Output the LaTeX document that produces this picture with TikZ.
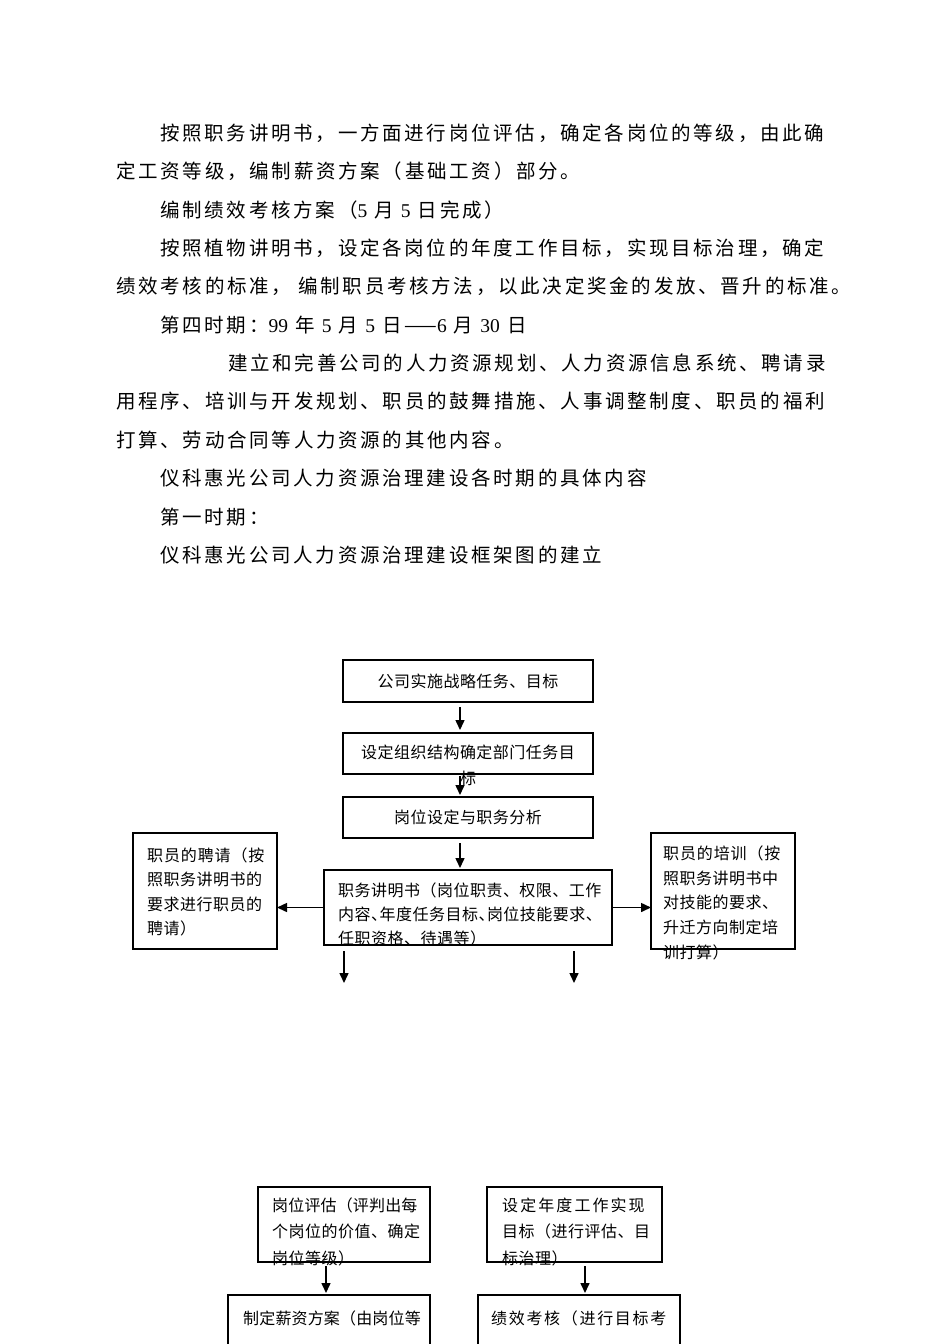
\documentclass[tikz,border=0pt]{standalone}
\usepackage{fontspec}
\setmainfont{Liberation Serif}
\newfontfamily\bodycjk[LetterSpace=14]{Noto Sans CJK SC}
\newfontfamily\boxcjk[LetterSpace=3]{Noto Sans CJK SC}
\usetikzlibrary{arrows.meta}
\newcommand\lat[1]{{\rmfamily #1}}

\begin{document}
\begin{tikzpicture}[x=1pt,y=-1pt,
  body/.style={anchor=west,inner sep=0pt,font=\bodycjk\fontsize{19.5pt}{19.5pt}\selectfont},
  frame/.style={draw,line width=1.1pt,inner sep=0pt,outer sep=0pt},
  boxtext/.style={inner sep=0pt,align=left,anchor=north west},
  flow/.style={draw,line width=1.5pt,-{Triangle[length=10pt,width=9pt]}}]
\path[use as bounding box,fill=white] (0,0) rectangle (950,1344);

% running text
\node[body] (l1) at (160,133) {按照职务讲明书，一方面进行岗位评估，确定各岗位的等级，由此确};
\node[body] (l2) at (116,171.4) {定工资等级，编制薪资方案（基础工资）部分。};
\node[body] (l3) at (160,209.7) {编制绩效考核方案（\lat{5} 月 \lat{5} 日完成）};
\node[body] (l4) at (160,248.1) {按照植物讲明书，设定各岗位的年度工作目标，实现目标治理，确定};
\node[body] (l5) at (116,286.4) {绩效考核的标准， 编制职员考核方法，以此决定奖金的发放、晋升的标准。};
\node[body] (l6) at (160,324.8) {第四时期：\lat{99} 年 \lat{5} 月 \lat{5} 日——\lat{6} 月 \lat{30} 日};
\node[body] (l7) at (228,363.2) {建立和完善公司的人力资源规划、人力资源信息系统、聘请录};
\node[body] (l8) at (116,401.5) {用程序、培训与开发规划、职员的鼓舞措施、人事调整制度、职员的福利};
\node[body] (l9) at (116,439.9) {打算、劳动合同等人力资源的其他内容。};
\node[body] (l10) at (160,478.2) {仪科惠光公司人力资源治理建设各时期的具体内容};
\node[body] (l11) at (160,516.6) {第一时期：};
\node[body] (l12) at (160,555) {仪科惠光公司人力资源治理建设框架图的建立};

% boxes
\node[frame,minimum width=250pt,minimum height=42pt] (strat) at (468,681) {};
\node[frame,minimum width=250pt,minimum height=41pt] (org) at (468,753.5) {};
\node[frame,minimum width=250pt,minimum height=41pt] (post) at (468,817.5) {};
\node[frame,minimum width=288pt,minimum height=75pt] (manual) at (468,907.5) {};
\node[frame,minimum width=144pt,minimum height=116pt] (hire) at (205,891) {};
\node[frame,minimum width=144pt,minimum height=116pt] (train) at (723,891) {};
\node[frame,minimum width=172pt,minimum height=75pt] (evalpost) at (344,1224.5) {};
\node[frame,minimum width=175pt,minimum height=75pt] (goal) at (574.5,1224.5) {};
\node[frame,minimum width=202pt,minimum height=80pt] (salary) at (329,1335) {};
\node[frame,minimum width=202pt,minimum height=80pt] (perf) at (579,1335) {};

% box texts
\node[inner sep=0pt,font=\boxcjk\fontsize{16pt}{16pt}\selectfont] (strattxt) at (468,681) {公司实施战略任务、目标};
\node[boxtext,align=center,anchor=north,font=\boxcjk\fontsize{16pt}{26pt}\selectfont] (orgtxt) at (468,744.5) {设定组织结构确定部门任务目\\标};
\node[inner sep=0pt,font=\boxcjk\fontsize{16pt}{16pt}\selectfont] (posttxt) at (468,817) {岗位设定与职务分析};
\node[boxtext,font=\boxcjk\fontsize{16pt}{24pt}\selectfont] (manualtxt) at (338,882.5) {职务讲明书（岗位职责、权限、工作\\{\addfontfeature{RawFeature=+halt}内容、年度任务目标、岗位技能要求、}\\任职资格、待遇等）};
\node[boxtext,font=\boxcjk\fontsize{16pt}{24.4pt}\selectfont] (hiretxt) at (147,847.5) {\addfontfeature{LetterSpace=5.5}职员的聘请（按\\照职务讲明书的\\要求进行职员的\\聘请）};
\node[boxtext,font=\boxcjk\fontsize{16pt}{24.75pt}\selectfont] (traintxt) at (663,845.5) {\addfontfeature{LetterSpace=5.5}职员的培训（按\\照职务讲明书中\\对技能的要求、\\升迁方向制定培\\训打算）};
\node[boxtext,font=\boxcjk\fontsize{16pt}{26.5pt}\selectfont] (evalposttxt) at (272,1197.5) {\addfontfeature{LetterSpace=1}岗位评估（评判出每\\个岗位的价值、确定\\岗位等级）};
\node[boxtext,font=\boxcjk\fontsize{16pt}{26.5pt}\selectfont] (goaltxt) at (502,1197.5) {{\addfontfeature{LetterSpace=13}设定年度工作实现}\\目标（进行评估、目\\标治理）};
\node[anchor=west,inner sep=0pt,font=\boxcjk\fontsize{16pt}{16pt}\selectfont] (salarytxt) at (243,1318) {\addfontfeature{LetterSpace=1}制定薪资方案（由岗位等};
\node[anchor=west,inner sep=0pt,font=\boxcjk\fontsize{16pt}{16pt}\selectfont] (perftxt) at (491,1318) {\addfontfeature{LetterSpace=10.5}绩效考核（进行目标考};

% connectors
\coordinate (c1) at (460,0);
\coordinate (c2) at (326,0);
\coordinate (c3) at (585,0);
\coordinate (dl) at (344,983);
\coordinate (dr) at (574,983);
\path[flow,shorten <=5pt,shorten >=3pt] (strat.south -| c1) -- (org.north -| c1);
\path[flow,shorten <=2pt,shorten >=2pt] (org.south -| c1) -- (post.north -| c1);
\path[flow,shorten <=5pt,shorten >=2pt] (post.south -| c1) -- (manual.north -| c1);
\path[flow] (manual.west) -- (manual.west -| hire.east);
\path[flow] (manual.east) -- (manual.east -| train.west);
\path[flow,shorten <=6pt] (manual.south -| dl) -- (dl);
\path[flow,shorten <=6pt] (manual.south -| dr) -- (dr);
\path[flow,shorten <=4pt,shorten >=2pt] (evalpost.south -| c2) -- (salary.north -| c2);
\path[flow,shorten <=4pt,shorten >=2pt] (goal.south -| c3) -- (perf.north -| c3);
\end{tikzpicture}
\end{document}
